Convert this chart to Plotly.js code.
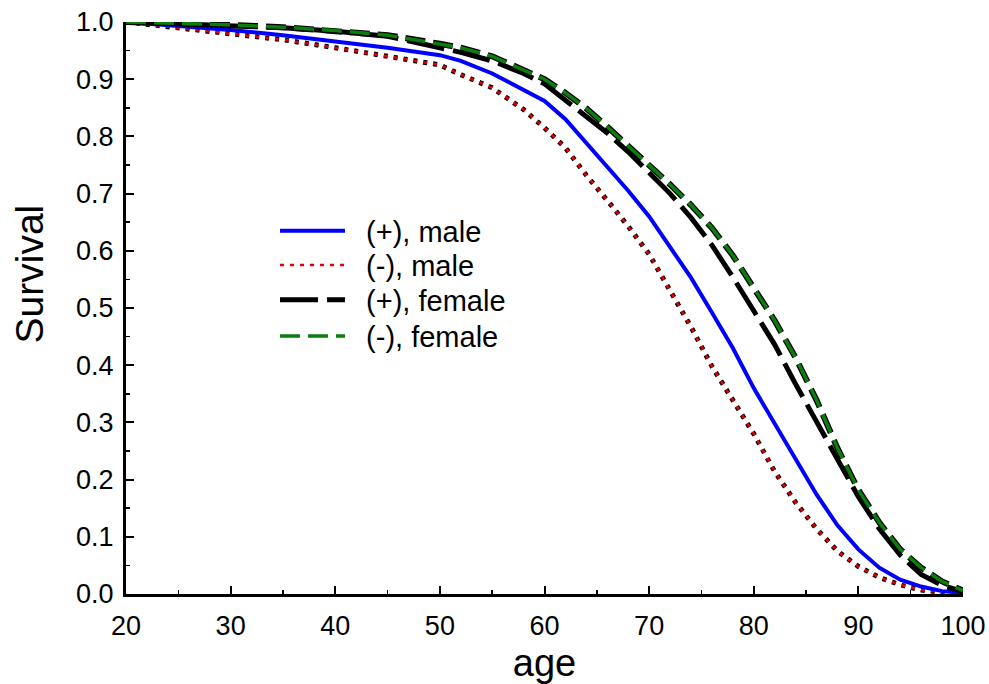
<!DOCTYPE html>
<html>
<head>
<meta charset="utf-8">
<script src="https://cdn.plot.ly/plotly-3.0.1.min.js"></script>
<style>
  html, body { margin: 0; padding: 0; background: #fff; }
  #chart { width: 989px; height: 684px; }
</style>
</head>
<body>
<div id="chart"></div>
<script>
// Survival curves by age, split by group (+/-) and sex
const ages = [20, 25, 30, 35, 40, 45, 50, 52, 55, 58, 60, 62, 64, 66, 68, 70, 72, 74, 76, 78, 80, 82, 84, 86, 88, 90, 92, 94, 96, 98, 100];

const plusMale = [1.000, 0.993, 0.986, 0.977, 0.966, 0.955, 0.942, 0.932, 0.910, 0.880, 0.862, 0.830, 0.788, 0.748, 0.705, 0.660, 0.608, 0.553, 0.492, 0.430, 0.360, 0.297, 0.237, 0.174, 0.120, 0.078, 0.046, 0.025, 0.013, 0.005, 0.002];
const minusMale = [1.000, 0.990, 0.979, 0.969, 0.955, 0.940, 0.925, 0.908, 0.885, 0.847, 0.815, 0.780, 0.732, 0.688, 0.643, 0.594, 0.530, 0.467, 0.398, 0.339, 0.280, 0.214, 0.160, 0.114, 0.075, 0.048, 0.029, 0.016, 0.007, 0.003, 0.001];
const plusFemale = [1.000, 0.997, 0.994, 0.990, 0.984, 0.975, 0.955, 0.947, 0.932, 0.910, 0.892, 0.863, 0.835, 0.806, 0.773, 0.738, 0.700, 0.658, 0.610, 0.554, 0.497, 0.436, 0.367, 0.302, 0.235, 0.170, 0.114, 0.068, 0.034, 0.015, 0.004];
const minusFemale = [1.000, 0.998, 0.995, 0.991, 0.985, 0.977, 0.962, 0.955, 0.940, 0.916, 0.900, 0.876, 0.849, 0.817, 0.784, 0.750, 0.716, 0.680, 0.640, 0.592, 0.536, 0.478, 0.413, 0.339, 0.255, 0.182, 0.125, 0.078, 0.046, 0.022, 0.006];

const seriesNames = ['(+), male', '(-), male', '(+), female', '(-), female'];

const font = 'Arial, "Liberation Sans", Helvetica, sans-serif';
const pad = '\u00a0\u00a0';

const traces = [
  // dark edge under the dotted male curve
  { x: ages, y: minusMale, mode: 'lines', showlegend: false, hoverinfo: 'skip',
    line: { color: '#000000', width: 5, dash: '4px,6px' } },
  { x: ages, y: minusMale, mode: 'lines', name: pad + seriesNames[1], legend: 'legend2',
    line: { color: '#e00000', width: 2.6, dash: '4px,6px' } },
  { x: ages, y: plusMale, mode: 'lines', name: pad + seriesNames[0], legend: 'legend',
    line: { color: '#0000ff', width: 4 } },
  { x: ages, y: plusFemale, mode: 'lines', name: pad + seriesNames[2], legend: 'legend3',
    line: { color: '#000000', width: 5, dash: '38px,9px' } },
  // dark edge under the green dashed curve
  { x: ages, y: minusFemale, mode: 'lines', showlegend: false, hoverinfo: 'skip',
    line: { color: '#000000', width: 6, dash: '20px,8px' } },
  { x: ages, y: minusFemale, mode: 'lines', name: pad + seriesNames[3], legend: 'legend4',
    line: { color: '#0a7d0a', width: 3.5, dash: '20px,8px' } }
];

// one legend box per entry, stacked as a single column
function legendBox(yCenter) {
  return {
    x: 0.178, y: yCenter, xanchor: 'left', yanchor: 'middle',
    bgcolor: 'rgba(0,0,0,0)', borderwidth: 0,
    font: { family: font, size: 29, color: '#000000' },
    itemwidth: 65
  };
}

const layout = {
  width: 989,
  height: 684,
  margin: { l: 126, r: 26, t: 22, b: 90 },
  paper_bgcolor: '#ffffff',
  plot_bgcolor: '#ffffff',
  font: { family: font, color: '#000000' },
  showlegend: true,
  legend: legendBox(0.635),
  legend2: legendBox(0.575),
  legend3: legendBox(0.514),
  legend4: legendBox(0.451),
  xaxis: {
    range: [20, 100],
    tickmode: 'linear', tick0: 20, dtick: 10,
    ticks: 'inside', ticklen: 8, tickwidth: 2, tickcolor: '#000',
    minor: { ticks: 'inside', ticklen: 4, tickwidth: 1.5, dtick: 5, tickcolor: '#000' },
    showline: true, linewidth: 3, linecolor: '#000',
    showgrid: false, zeroline: false,
    tickfont: { family: font, size: 27, color: '#000' },
    ticklabelstandoff: 6,
    title: { text: 'age', font: { family: font, size: 38, color: '#000' }, standoff: 10 }
  },
  yaxis: {
    range: [0, 1],
    tickmode: 'linear', tick0: 0, dtick: 0.1,
    tickformat: '.1f',
    ticks: 'inside', ticklen: 8, tickwidth: 2, tickcolor: '#000',
    minor: { ticks: 'inside', ticklen: 4, tickwidth: 1.5, dtick: 0.05, tickcolor: '#000' },
    showline: true, linewidth: 3, linecolor: '#000',
    showgrid: false, zeroline: false,
    tickfont: { family: font, size: 27, color: '#000' },
    ticklabelstandoff: 4
  },
  annotations: [
    { text: 'Survival', xref: 'paper', yref: 'paper', x: -0.115, y: 0.56,
      xanchor: 'center', yanchor: 'middle', textangle: -90, showarrow: false,
      font: { family: font, size: 39, color: '#000' } }
  ]
};

Plotly.newPlot('chart', traces, layout, { displayModeBar: false, staticPlot: true });
</script>
</body>
</html>
